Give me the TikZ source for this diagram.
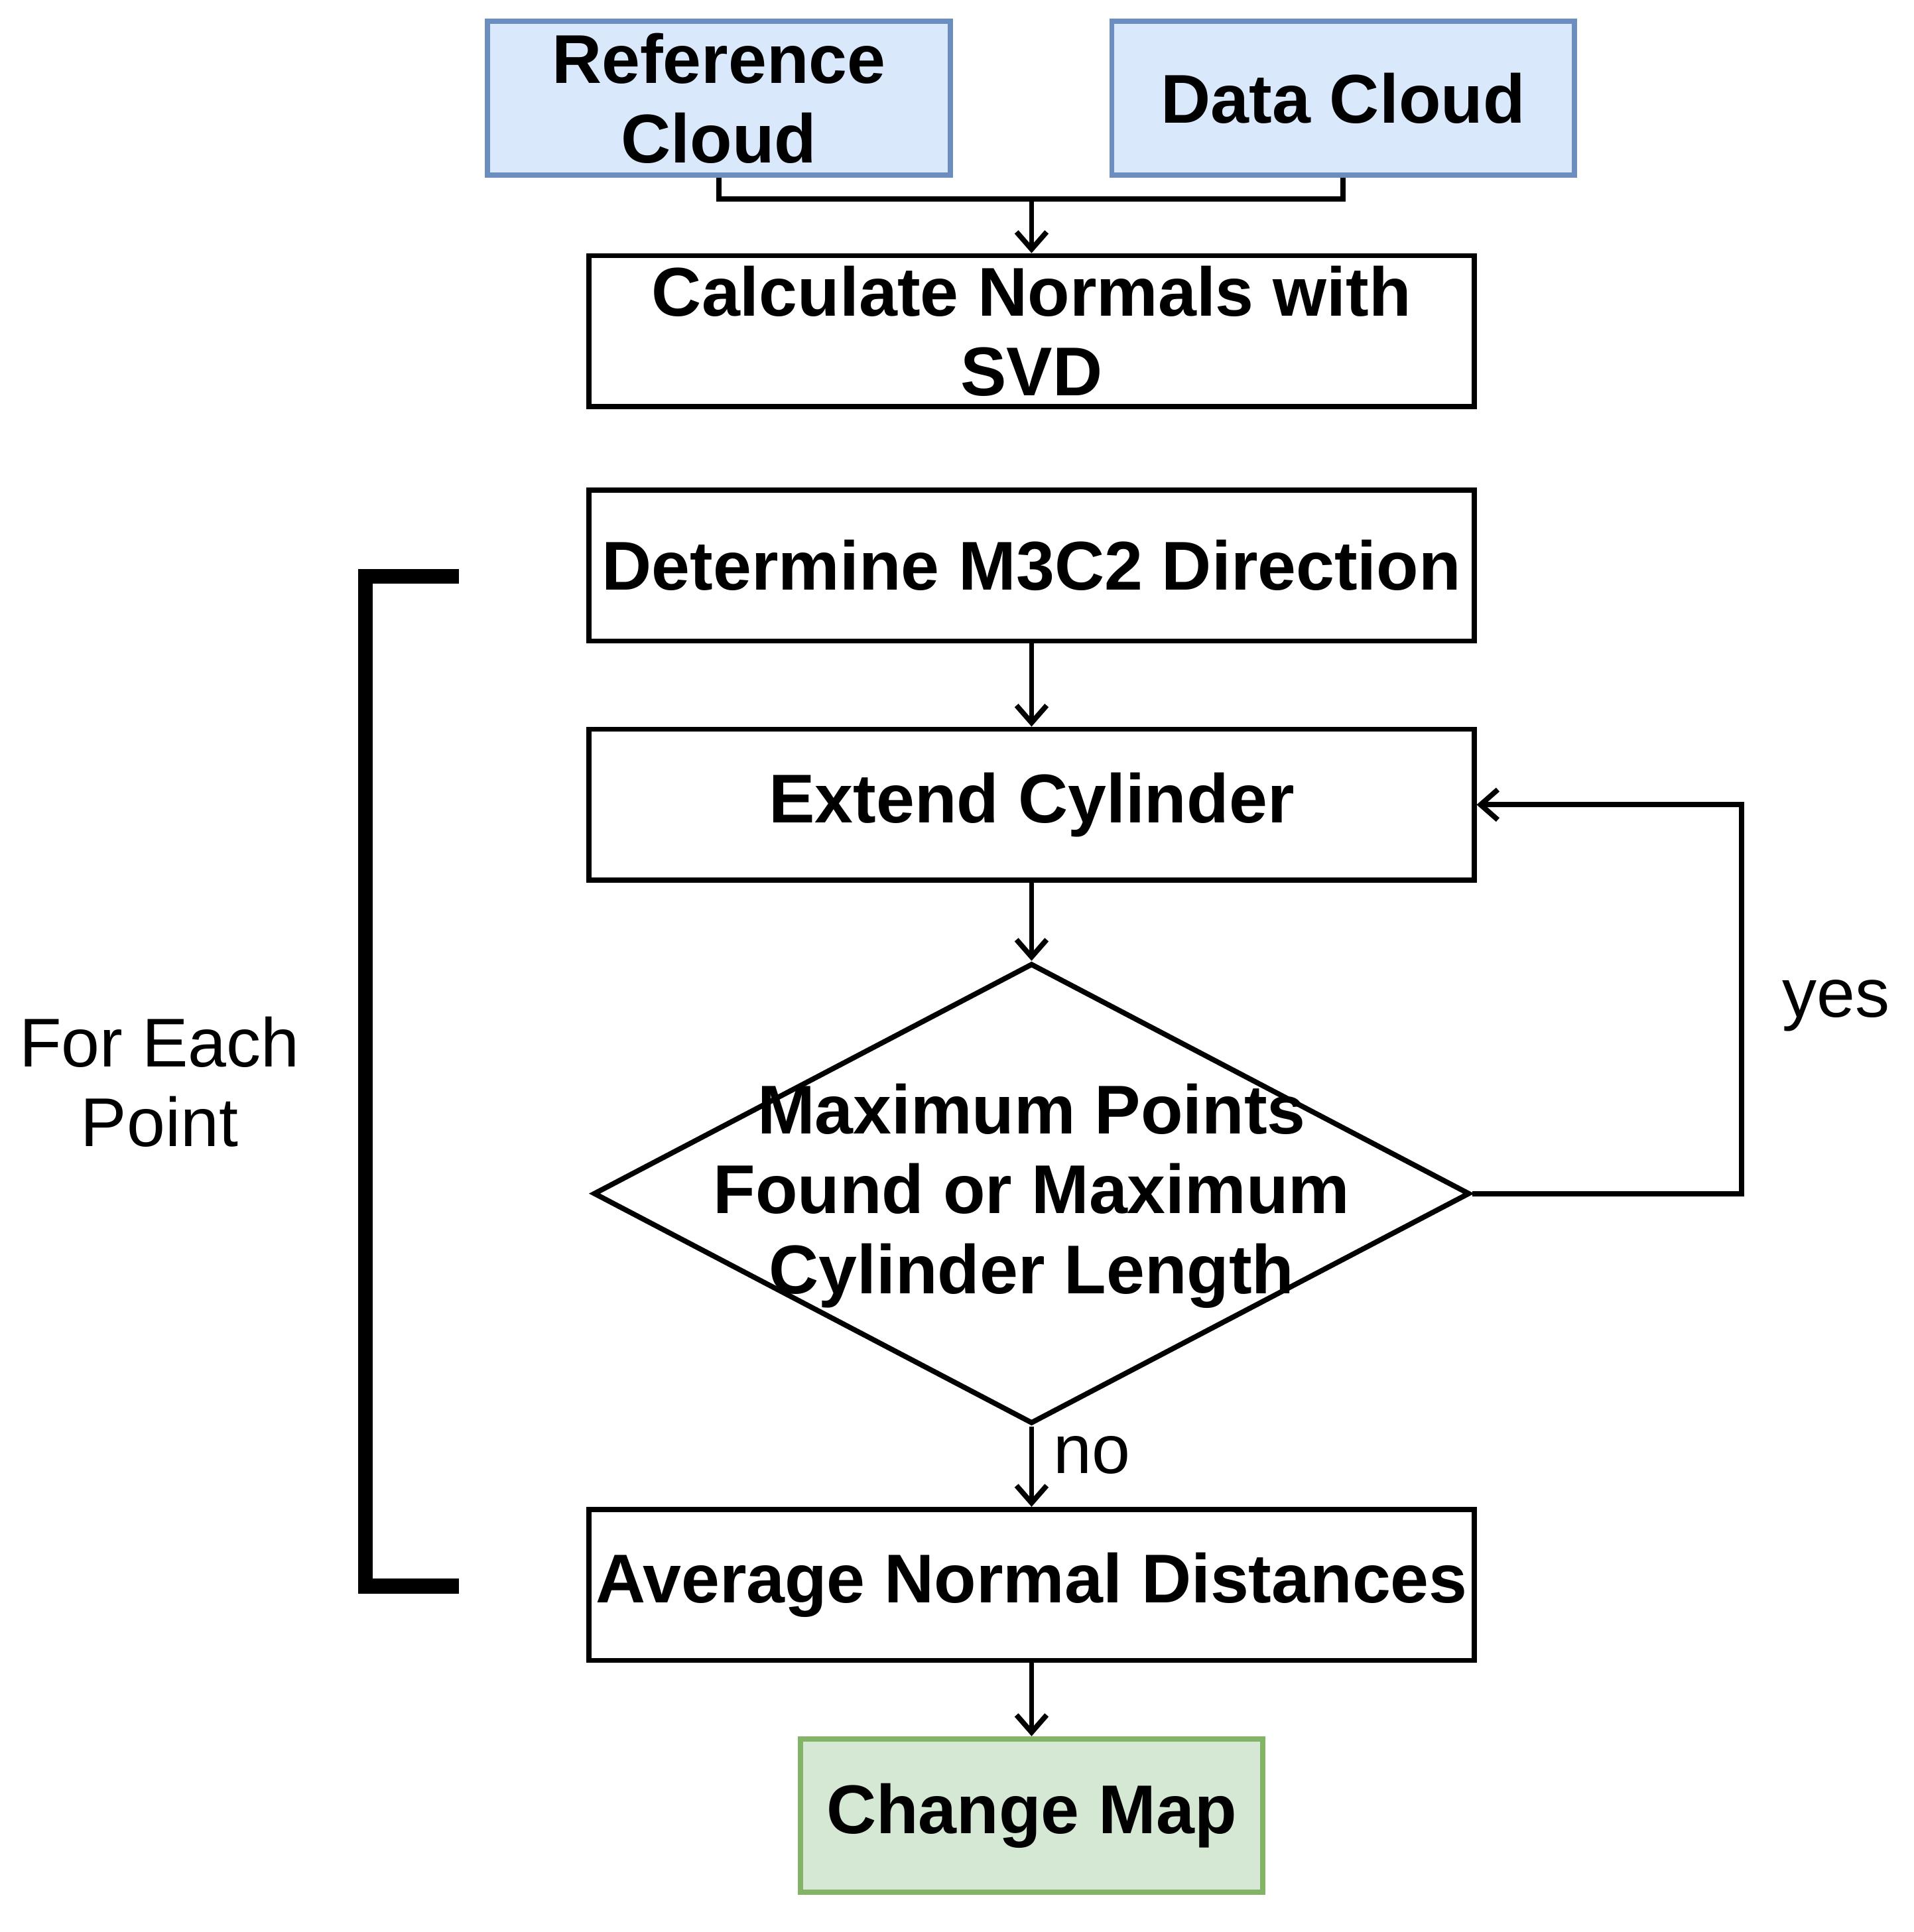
\documentclass[tikz,border=0pt]{standalone}
\usepackage{fontspec}
\setmainfont{Liberation Sans}
\usetikzlibrary{shapes.geometric,arrows.meta}
\definecolor{bfill}{HTML}{DAE8FC}\definecolor{bdraw}{HTML}{6C8EBF}
\definecolor{gfill}{HTML}{D5E8D4}\definecolor{gdraw}{HTML}{82B366}
\begin{document}
\begin{tikzpicture}[x=0.01cm,y=-0.01cm,
 box/.style={draw,line width=1.2pt,minimum width=7.21cm,minimum height=1.23cm,align=center,font=\fontsize{16}{18.5}\selectfont\bfseries,inner sep=0pt},
 arr/.style={line width=1.2pt,-{Straight Barb[length=4pt,width=7pt]}},
 ln/.style={line width=1.2pt}]
\useasboundingbox (0,0) rectangle (1560,1575);
\node[box,fill=bfill,draw=bdraw,minimum width=3.77cm,minimum height=1.25cm] (ref) at (586,80) {Reference\\Cloud};
\node[box,fill=bfill,draw=bdraw,minimum width=3.77cm,minimum height=1.25cm] (data) at (1095,80) {Data Cloud};
\node[box] (calc) at (841,270) {Calculate Normals with\\SVD};
\node[box] (det) at (841,461) {Determine M3C2 Direction};
\node[box] (ext) at (841,656) {Extend Cylinder};
\node[diamond,draw,line width=1.2pt,minimum width=7.14cm,minimum height=3.75cm,aspect=1.9,inner sep=0pt] (dia) at (841,973) {};
\node[align=center,font=\fontsize{16}{18.5}\selectfont\bfseries] at (841,975) {Maximum Points\\Found or Maximum\\Cylinder Length};
\node[box] (avg) at (841,1292) {Average Normal Distances};
\node[box,fill=gfill,draw=gdraw,minimum width=3.77cm,minimum height=1.25cm] (cm) at (841,1480) {Change Map};
\coordinate (j) at (841,162);
\draw[ln] (ref.south) |- (j) -| (data.south);
\draw[arr] (j) -- (calc.north);
\draw[arr] (det) -- (ext);
\draw[arr] (ext) -- (dia.north);
\coordinate (c1) at (1420,973);
\draw[arr] (dia.east) -- (c1) |- (ext.east);
\draw[arr] (dia.south) -- (avg.north);
\draw[arr] (avg) -- (cm);
\node[font=\fontsize{16}{18.5}\selectfont] at (890,1186) {no};
\node[font=\fontsize{16}{18.5}\selectfont] at (1497,820) {yes};
\coordinate (b1) at (374,470); \coordinate (b2) at (374,1293);
\draw[line width=3.4pt] (b1) -| (298,1293) -- (b2);
\node[align=center,font=\fontsize{16}{18.5}\selectfont] at (130,882) {For Each\\Point};
\end{tikzpicture}
\end{document}
